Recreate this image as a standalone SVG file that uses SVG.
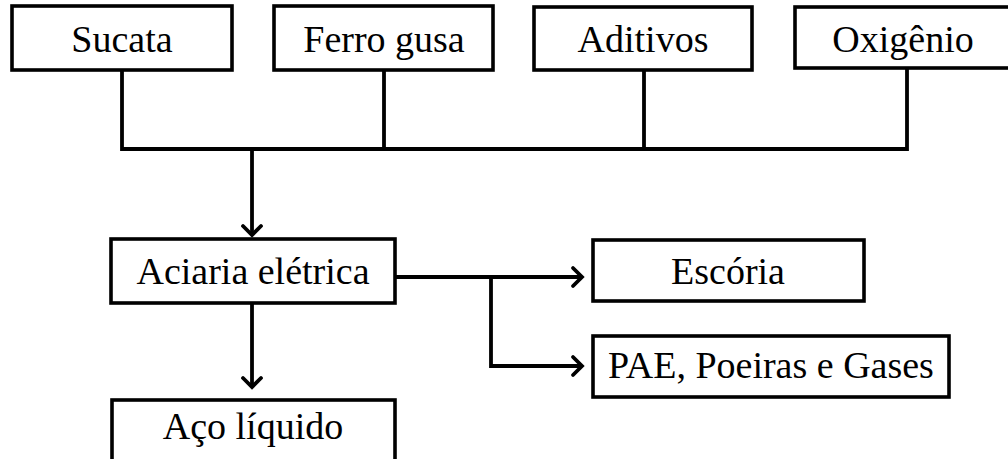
<svg xmlns="http://www.w3.org/2000/svg" width="1008" height="459" viewBox="0 0 1008 459">
<defs>
<marker id="arr" markerUnits="userSpaceOnUse" markerWidth="24" markerHeight="24" viewBox="-12 -12 24 24" refX="0" refY="0" orient="auto">
<path d="M-9,-9 L0,0 L-9,9" fill="none" stroke="#000" stroke-width="3.8" stroke-linecap="round" stroke-linejoin="miter"/>
</marker>
<style>
.box{fill:#fff;stroke:#000;stroke-width:3.6}
.t{font-family:"Liberation Serif","Times New Roman",serif;font-size:38px;fill:#000;text-anchor:middle}
.c{fill:none;stroke:#000;stroke-width:3.8}
</style>
</defs>
<rect width="1008" height="459" fill="#fff"/>
<g id="connectors">
<path class="c" d="M122,70 V149 M384,70 V149 M644,70 V149 M907,68 V149 M120.1,149 H908.9"/>
<path class="c" d="M252,149 V235" marker-end="url(#arr)"/>
<path class="c" d="M252,303 V387" marker-end="url(#arr)"/>
<path class="c" d="M395,277 H582" marker-end="url(#arr)"/>
<path class="c" d="M491,277 V366 H582" marker-end="url(#arr)"/>
</g>
<g id="sucata"><rect class="box" x="12" y="6" width="220" height="64"/><text class="t" x="122" y="52">Sucata</text></g>
<g id="ferro-gusa"><rect class="box" x="274" y="6" width="219" height="64"/><text class="t" x="384" y="52">Ferro gusa</text></g>
<g id="aditivos"><rect class="box" x="534" y="7" width="218" height="63"/><text class="t" x="643" y="52">Aditivos</text></g>
<g id="oxigenio"><rect class="box" x="795" y="7" width="218" height="61"/><text class="t" x="903" y="52">Oxigênio</text></g>
<g id="aciaria"><rect class="box" x="111" y="239" width="284" height="64"/><text class="t" x="253" y="284">Aciaria elétrica</text></g>
<g id="escoria"><rect class="box" x="593" y="240" width="271" height="61"/><text class="t" x="728" y="284">Escória</text></g>
<g id="pae"><rect class="box" x="593" y="336" width="356" height="61"/><text class="t" x="771" y="378">PAE, Poeiras e Gases</text></g>
<g id="aco"><rect class="box" x="112" y="400" width="283" height="70"/><text class="t" x="253" y="439">Aço líquido</text></g>
</svg>
